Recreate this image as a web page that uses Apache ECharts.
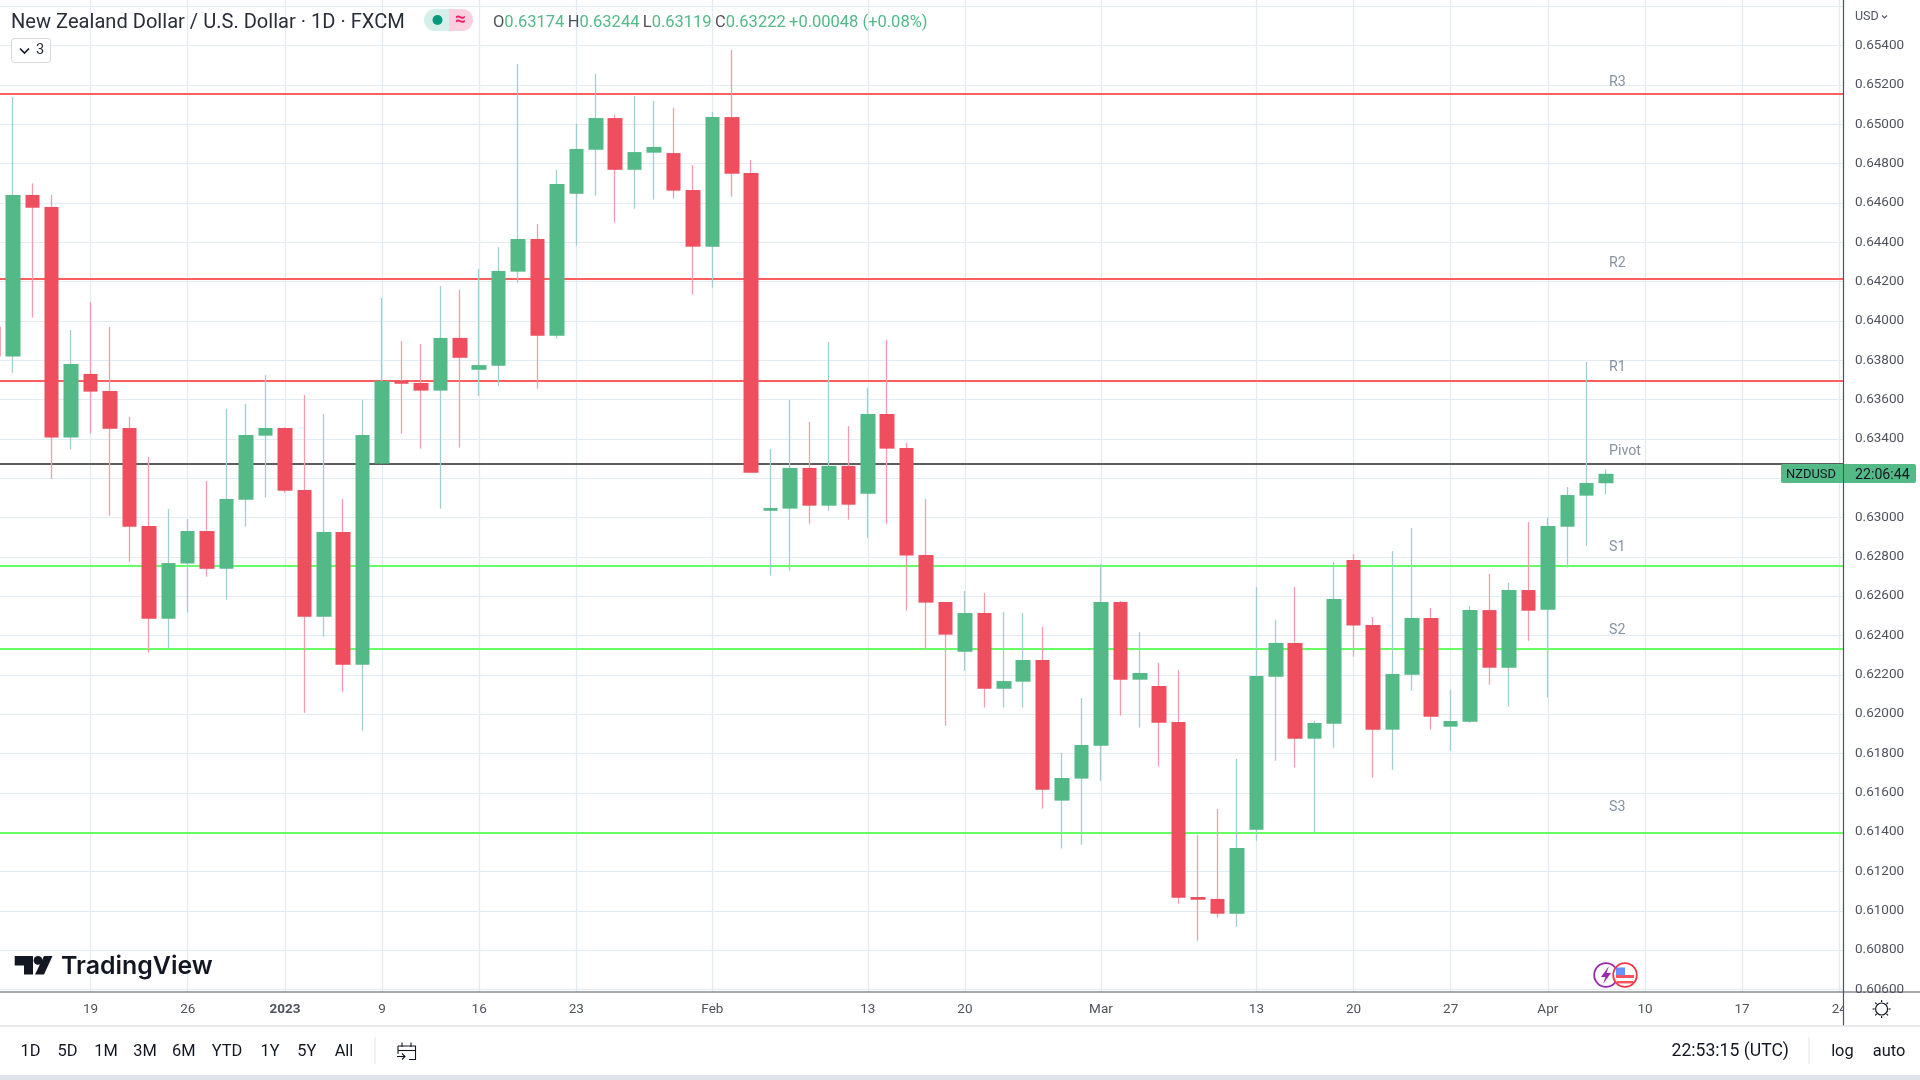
<!DOCTYPE html>
<html>
<head>
<meta charset="utf-8">
<title>NZDUSD</title>
<script src="https://cdn.jsdelivr.net/npm/echarts@6/dist/echarts.min.js"></script>
<style>
html, body { margin: 0; padding: 0; background: #fff; }
#main { width: 1920px; height: 1080px; }
</style>
</head>
<body>
<div id="main"></div>
<script>
var days = [
  '12-12','12-13','12-14','12-15','12-16','12-19','12-20','12-21','12-22','12-23',
  '12-26','12-27','12-28','12-29','12-30','01-02','01-03','01-04','01-05','01-06',
  '01-09','01-10','01-11','01-12','01-13','01-16','01-17','01-18','01-19','01-20',
  '01-23','01-24','01-25','01-26','01-27','01-30','01-31','02-01','02-02','02-03',
  '02-06','02-07','02-08','02-09','02-10','02-13','02-14','02-15','02-16','02-17',
  '02-20','02-21','02-22','02-23','02-24','02-27','02-28','03-01','03-02','03-03',
  '03-06','03-07','03-08','03-09','03-10','03-13','03-14','03-15','03-16','03-17',
  '03-20','03-21','03-22','03-23','03-24','03-27','03-28','03-29','03-30','03-31',
  '04-03','04-04','04-05','04-06','04-07','04-10','04-11','04-12','04-13','04-14',
  '04-17','04-18','04-19','04-20','04-21','04-24','04-25'
];
var opens = [
  0.63970,0.63818,0.64640,0.64579,0.63406,0.63730,0.63643,0.63455,0.62957,0.62485,
  0.62766,0.62931,0.62739,0.63090,0.63416,0.63455,0.63140,0.62495,0.62926,0.62251,
  0.63275,0.63695,0.63684,0.63645,0.63913,0.63751,0.63772,0.64250,0.64416,0.63924,
  0.64646,0.64870,0.65031,0.64768,0.64855,0.64853,0.64665,0.64377,0.65036,0.64752,
  0.63034,0.63045,0.63252,0.63060,0.63262,0.63121,0.63526,0.63353,0.62809,0.62570,
  0.62317,0.62514,0.62129,0.62165,0.62275,0.61560,0.61672,0.61839,0.62570,0.62175,
  0.62143,0.61960,0.61070,0.61060,0.60985,0.61412,0.62190,0.62362,0.61875,0.61951,
  0.62784,0.62453,0.61921,0.62200,0.62489,0.61936,0.61961,0.62529,0.62236,0.62631,
  0.62531,0.62953,0.63111,0.63174
];
var closes = [
  0.63818,0.64640,0.64575,0.63406,0.63780,0.63640,0.63451,0.62953,0.62485,0.62768,
  0.62931,0.62739,0.63094,0.63419,0.63455,0.63136,0.62495,0.62926,0.62251,0.63419,
  0.63694,0.63680,0.63645,0.63913,0.63812,0.63775,0.64253,0.64416,0.63924,0.64696,
  0.64874,0.65031,0.64768,0.64858,0.64884,0.64662,0.64377,0.65036,0.64748,0.63228,
  0.63048,0.63252,0.63060,0.63262,0.63065,0.63526,0.63350,0.62806,0.62567,0.62404,
  0.62514,0.62129,0.62168,0.62275,0.61616,0.61675,0.61843,0.62570,0.62175,0.62209,
  0.61956,0.61066,0.61056,0.60985,0.61319,0.62194,0.62362,0.61875,0.61955,0.62585,
  0.62450,0.61921,0.62204,0.62489,0.61987,0.61965,0.62529,0.62236,0.62631,0.62526,
  0.62957,0.63114,0.63175,0.63222
];
var highs = [
  0.64055,0.65137,0.64699,0.64640,0.63953,0.64096,0.63969,0.63511,0.63307,0.63043,
  0.62992,0.63185,0.63552,0.63577,0.63724,0.63458,0.63623,0.63526,0.63094,0.63597,
  0.64116,0.63897,0.63882,0.64177,0.64157,0.64264,0.64375,0.65306,0.64492,0.64767,
  0.65001,0.65255,0.65047,0.65143,0.65118,0.65082,0.64792,0.65062,0.65377,0.64818,
  0.63348,0.63597,0.63486,0.63892,0.63465,0.63658,0.63902,0.63379,0.63094,0.62570,
  0.62626,0.62616,0.62519,0.62514,0.62443,0.61802,0.62082,0.62763,0.62575,0.62418,
  0.62260,0.62224,0.61385,0.61518,0.61772,0.62646,0.62479,0.62646,0.61965,0.62774,
  0.62814,0.62494,0.62829,0.62946,0.62540,0.62123,0.62550,0.62713,0.62667,0.62977,
  0.63001,0.63155,0.63791,0.63244
];
var lows = [
  0.63750,0.63736,0.64016,0.63197,0.63345,0.63426,0.63009,0.62775,0.62312,0.62336,
  0.62516,0.62699,0.62582,0.62953,0.63101,0.63126,0.62007,0.62394,0.62114,0.61916,
  0.63275,0.63426,0.63350,0.63045,0.63355,0.63618,0.63670,0.64194,0.63655,0.63909,
  0.64382,0.64636,0.64499,0.64570,0.64616,0.64621,0.64133,0.64168,0.64631,0.63228,
  0.62704,0.62729,0.62968,0.63034,0.62989,0.62897,0.62968,0.62526,0.62331,0.61941,
  0.62221,0.62033,0.62033,0.62033,0.61519,0.61317,0.61336,0.61661,0.61992,0.61931,
  0.61733,0.61036,0.60848,0.60965,0.60919,0.61356,0.61763,0.61728,0.61401,0.61829,
  0.62292,0.61677,0.61717,0.62119,0.61921,0.61814,0.61956,0.62150,0.62038,0.62373,
  0.62084,0.62745,0.62856,0.63119
];
var levelNames = ['R3','R2','R1','Pivot','S1','S2','S3'];
var levelValues = [0.65155,0.64213,0.63694,0.63273,0.62755,0.62333,0.61397];
var levelColors = ['#fe5e5e','#fe5e5e','#fe5e5e','#5d5d5d','#66ff66','#66ff66','#66ff66'];
var levelLift = [11.7,15.8,14,12.8,18.2,18.4,25];

var xTicks = {
  '12-19':'19','12-26':'26','01-02':'2023','01-09':'9','01-16':'16','01-23':'23','02-01':'Feb',
  '02-13':'13','02-20':'20','03-01':'Mar','03-13':'13','03-20':'20','03-27':'27','04-03':'Apr',
  '04-10':'10','04-17':'17','04-24':'24'
};
var yLabelTicks = [0.606,0.608,0.610,0.612,0.614,0.616,0.618,0.620,0.622,0.624,0.626,0.628,0.630,
  0.632,0.634,0.636,0.638,0.640,0.642,0.644,0.646,0.648,0.650,0.652,0.654];
var yGridTicks = yLabelTicks.concat([0.656]);
var rangeButtons = ['1D','5D','1M','3M','6M','YTD','1Y','5Y','All'];
var rangeCenters = [30.6,67.4,106,145,183.7,227,270,306.8,344];

var yMin = 0.605869, yMax = 0.656314;
var upColor = '#53b987', downColor = '#ee4e5e';
var upWick = '#a0cdcf', downWick = '#f69cad';
var gridColor = '#e1ebf1', axisColor = '#50535e', tickText = '#50535e';
var uiFont = 'Roboto';

var dom = echarts.init(document.getElementById('main'), null, {renderer: 'canvas'});

function bodyRow(i) {
  return [opens[i], closes[i], Math.min(opens[i], closes[i]), Math.max(opens[i], closes[i])];
}
function wickRow(i) {
  return [opens[i], closes[i], lows[i], highs[i]];
}
function strokes(list, color, w) {
  return list.map(function (pts) {
    return {type:'polyline', z:6, silent:true, shape:{points:pts}, style:{stroke:color,fill:null,lineWidth:w}};
  });
}

var chrome = [
  // right price panel, hides what runs past the axis
  {type:'rect', z:3, silent:true, shape:{x:1844,y:0,width:76,height:1026}, style:{fill:'#fff'}},
  {type:'rect', z:5, silent:true, shape:{x:1844,y:993,width:76,height:33}, style:{fill:'#fff'}},
  {type:'line', z:6, silent:true, shape:{x1:0,y1:992,x2:1920,y2:992}, style:{stroke:axisColor,lineWidth:1.2}},
  {type:'line', z:6, silent:true, shape:{x1:1843.5,y1:0,x2:1843.5,y2:1026}, style:{stroke:axisColor,lineWidth:1.2}},
  {type:'line', z:6, silent:true, shape:{x1:0,y1:1026,x2:1920,y2:1026}, style:{stroke:'#e0e3eb',lineWidth:1.6}},
  {type:'rect', z:6, silent:true, shape:{x:0,y:1075,width:1920,height:5}, style:{fill:'#e0e3eb'}},

  // header
  {type:'text', z:6, silent:true, x:11, y:22.5, style:{text:'New Zealand Dollar / U.S. Dollar · 1D · FXCM', fill:'#2a2e39', font:'20.1px '+uiFont, textVerticalAlign:'middle'}},
  {type:'rect', z:6, silent:true, shape:{x:424,y:9,width:30,height:22,r:[11,0,0,11]}, style:{fill:'#d6efea'}},
  {type:'rect', z:6, silent:true, shape:{x:449,y:9,width:24,height:22,r:[0,11,11,0]}, style:{fill:'#fbcfdf'}},
  {type:'circle', z:6, silent:true, shape:{cx:437.5,cy:20,r:5}, style:{fill:'#089981'}},
  {type:'text', z:6, silent:true, x:460.5, y:20, style:{text:'≈', fill:'#e91e63', font:'bold 19px '+uiFont, textAlign:'center', textVerticalAlign:'middle'}},
  {type:'text', z:6, silent:true, x:493, y:23, style:{
    text:'{l|O}{v|0.63174} {l|H}{v|0.63244} {l|L}{v|0.63119} {l|C}{v|0.63222} {v|+0.00048 (+0.08%)}',
    textVerticalAlign:'middle',
    rich:{l:{fill:'#50535e',font:'16.5px '+uiFont}, v:{fill:upColor,font:'16.5px '+uiFont}}
  }},
  {type:'rect', z:6, silent:true, shape:{x:11.5,y:38.5,width:39,height:24,r:3}, style:{fill:'#fff',stroke:'#d6d8e0',lineWidth:1}},
  {type:'polyline', z:6, silent:true, shape:{points:[[20,48.5],[24.5,53],[29,48.5]]}, style:{stroke:'#131722',fill:null,lineWidth:1.6}},
  {type:'text', z:6, silent:true, x:40, y:50.5, style:{text:'3', fill:'#2a2e39', font:'14.6px '+uiFont, textAlign:'center', textVerticalAlign:'middle'}},

  // price panel items
  {type:'text', z:6, silent:true, x:1855, y:17, style:{text:'USD', fill:tickText, font:'12.5px '+uiFont, textVerticalAlign:'middle'}},
  {type:'polyline', z:6, silent:true, shape:{points:[[1882,15.5],[1884.5,18],[1887,15.5]]}, style:{stroke:tickText,fill:null,lineWidth:1.1}},
  {type:'rect', z:6, silent:true, shape:{x:1781,y:464,width:62,height:19,r:[2,0,0,2]}, style:{fill:upColor}},
  {type:'rect', z:6, silent:true, shape:{x:1844,y:464,width:72,height:19,r:[0,2,2,0]}, style:{fill:upColor}},
  {type:'text', z:6, silent:true, x:1786, y:475, style:{text:'NZDUSD', fill:'#131722', font:'12.9px '+uiFont, textVerticalAlign:'middle'}},
  {type:'text', z:6, silent:true, x:1855, y:475, style:{text:'22:06:44', fill:'#131722', font:'14.2px '+uiFont, textVerticalAlign:'middle'}},

  // logo
  {type:'polygon', z:6, silent:true, shape:{points:[[14.7,956],[33,956],[33,974.6],[24,974.6],[24,965.5],[14.7,965.5]]}, style:{fill:'#131722'}},
  {type:'circle', z:6, silent:true, shape:{cx:38,cy:960.4,r:4.4}, style:{fill:'#131722'}},
  {type:'polygon', z:6, silent:true, shape:{points:[[44,956],[52.5,956],[44,974.6],[35,974.6]]}, style:{fill:'#131722'}},
  {type:'text', z:6, silent:true, x:61, y:967, style:{text:'TradingView', fill:'#131722', font:'600 24.9px Inter', textVerticalAlign:'middle'}},

  // event icons
  {type:'circle', z:6, silent:true, shape:{cx:1606,cy:975,r:11.8}, style:{fill:'#fff',stroke:'#9c27b0',lineWidth:1.8}},
  {type:'polygon', z:6, silent:true, shape:{points:[[1609,966],[1601,977],[1605.5,977],[1603,984],[1611,973],[1606.5,973]]}, style:{fill:'#9c27b0'}},
  {type:'circle', z:7, silent:true, shape:{cx:1625,cy:975,r:11.8}, style:{fill:'#fff',stroke:'#f23645',lineWidth:1.8}},
  {type:'rect', z:7, silent:true, shape:{x:1616,y:975,width:18,height:3}, style:{fill:'#f7525f'}},
  {type:'rect', z:7, silent:true, shape:{x:1617,y:981,width:16,height:2.4}, style:{fill:'#f7525f'}},
  {type:'rect', z:7, silent:true, shape:{x:1616,y:967.5,width:9,height:7.5}, style:{fill:'#2962ff',opacity:0.7}},

  // bottom toolbar
  {type:'line', z:6, silent:true, shape:{x1:375,y1:1037,x2:375,y2:1064}, style:{stroke:'#e0e3eb',lineWidth:1}},
  {type:'line', z:6, silent:true, shape:{x1:1809,y1:1037,x2:1809,y2:1064}, style:{stroke:'#e0e3eb',lineWidth:1}},
  {type:'text', z:6, silent:true, x:1671.5, y:1052, style:{text:'22:53:15 (UTC)', fill:'#131722', font:'17.6px '+uiFont, textVerticalAlign:'middle'}},
  {type:'text', z:6, silent:true, x:1842.4, y:1052, style:{text:'log', fill:'#131722', font:'16.4px '+uiFont, textAlign:'center', textVerticalAlign:'middle'}},
  {type:'text', z:6, silent:true, x:1889, y:1052, style:{text:'auto', fill:'#131722', font:'16.4px '+uiFont, textAlign:'center', textVerticalAlign:'middle'}},

  // settings icon
  {type:'circle', z:6, silent:true, shape:{cx:1881.6,cy:1009,r:6}, style:{fill:'#fff',stroke:'#131722',lineWidth:1.2}}
];

// calendar icon in the toolbar
chrome = chrome.concat(strokes([
  [[398,1046],[415.5,1046],[415.5,1059.5],[409,1059.5]],
  [[398,1046],[398,1054]],
  [[398,1050.5],[415.5,1050.5]],
  [[402,1042.5],[402,1047]],
  [[411,1042.5],[411,1047]],
  [[397,1056.5],[405,1056.5]],
  [[402,1053.5],[405,1056.5],[402,1059.5]]
], '#131722', 1.1));

// settings rays
chrome = chrome.concat(strokes([
  [[1881.6,1000],[1881.6,1002]],
  [[1881.6,1016],[1881.6,1018]],
  [[1872.6,1009],[1874.6,1009]],
  [[1888.6,1009],[1890.6,1009]],
  [[1875.2,1002.6],[1876.6,1004]],
  [[1886.6,1014],[1888,1015.4]],
  [[1875.2,1015.4],[1876.6,1014]],
  [[1886.6,1004],[1888,1002.6]]
], '#131722', 1.2));

rangeButtons.forEach(function (t, i) {
  chrome.push({type:'text', z:6, silent:true, x:rangeCenters[i], y:1052, style:{text:t, fill:'#131722', font:'16.4px '+uiFont, textAlign:'center', textVerticalAlign:'middle'}});
});

var option = {
  animation: false,
  backgroundColor: '#fff',
  graphic: {elements: chrome},
  // the first candle starts off-canvas, so the grid has to be free to overflow
  grid: {left: -6.55, top: 0, right: 61.3, bottom: 88, containLabel: false, outerBoundsMode: 'none'},
  xAxis: {
    type: 'category',
    data: days,
    boundaryGap: false,
    axisLine: {show: false},
    axisTick: {show: false},
    axisLabel: {
      interval: function (i, v) { return xTicks[v] !== undefined; },
      formatter: function (v) {
        return v === '01-02' ? '{y|2023}' : xTicks[v];
      },
      color: tickText,
      fontFamily: uiFont,
      fontSize: 13.5,
      margin: 11,
      showMinLabel: true,
      showMaxLabel: true,
      hideOverlap: false,
      rich: {y: {fontWeight: 'bold', color: tickText, fontFamily: uiFont, fontSize: 13.5}}
    },
    splitLine: {
      show: true,
      interval: function (i, v) { return xTicks[v] !== undefined; },
      lineStyle: {color: gridColor, width: 1.2}
    }
  },
  yAxis: [
    {
      type: 'value',
      position: 'right',
      min: yMin,
      max: yMax,
      axisLine: {show: false},
      axisTick: {show: false, customValues: yGridTicks},
      axisLabel: {show: false, customValues: yGridTicks},
      splitLine: {show: true, lineStyle: {color: gridColor, width: 1.2}}
    },
    {
      type: 'value',
      position: 'right',
      offset: -15.2,
      z: 4,
      min: yMin,
      max: yMax,
      axisLine: {show: false},
      axisTick: {show: false, customValues: yLabelTicks},
      splitLine: {show: false},
      axisLabel: {
        customValues: yLabelTicks,
        margin: 11.5,
        color: tickText,
        fontFamily: uiFont,
        fontSize: 13.5,
        showMinLabel: true,
        showMaxLabel: true,
        formatter: function (v) { return v.toFixed(5); }
      }
    }
  ],
  series: [
    {
      name: 'levels',
      type: 'line',
      z: 1,
      data: [],
      silent: true,
      markLine: {
        silent: true,
        z: 1,
        precision: 5,
        symbol: 'none',
        label: {show: false},
        data: levelValues.map(function (v, i) {
          return {yAxis: v, lineStyle: {color: levelColors[i], width: 2.2, type: 'solid'}};
        })
      }
    },
    {
      name: 'level names',
      type: 'scatter',
      z: 2,
      symbolSize: 0,
      silent: true,
      data: levelValues.map(function (v, i) {
        return {
          value: [83, v],
          label: {
            show: true,
            formatter: levelNames[i],
            position: 'right',
            distance: 3,
            offset: [0, -levelLift[i]],
            color: '#66778a',
            fontFamily: uiFont,
            fontSize: 14.2
          }
        };
      })
    },
    {
      name: 'wicks',
      type: 'candlestick',
      z: 2,
      barWidth: 1,
      silent: true,
      itemStyle: {color: upWick, color0: downWick, borderColor: upWick, borderColor0: downWick, borderWidth: 1.3},
      data: opens.map(function (o, i) { return wickRow(i); })
    },
    {
      name: 'NZDUSD',
      type: 'candlestick',
      z: 2,
      barWidth: 15,
      silent: true,
      itemStyle: {color: upColor, color0: downColor, borderColor: upColor, borderColor0: downColor, borderWidth: 0},
      data: opens.map(function (o, i) { return bodyRow(i); })
    }
  ]
};

dom.setOption(option);
</script>
</body>
</html>
